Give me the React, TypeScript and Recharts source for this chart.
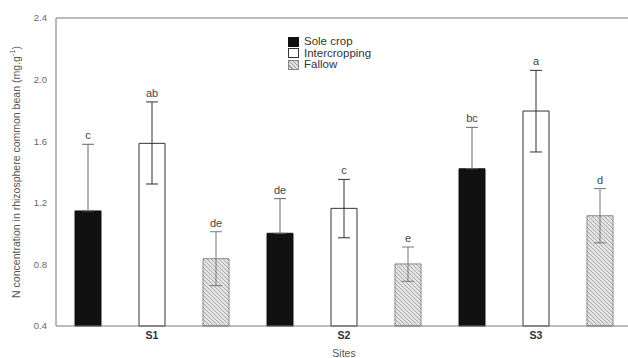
import React from "react";
import { BarChart, Bar, XAxis, YAxis, ErrorBar, LabelList, ReferenceLine } from "recharts";

const sites = ["S1", "S2", "S3"];

const sole = [1.147, 1.002, 1.421];
const soleErr = [[0, 0.433], [0, 0.225], [0, 0.269]];
const soleLetters = ["c", "de", "bc"];

const intercrop = [1.586, 1.164, 1.796];
const intercropErr = [[0.264, 0.269], [0.191, 0.188], [0.266, 0.264]];
const intercropLetters = ["ab", "c", "a"];

const fallow = [0.837, 0.803, 1.116];
const fallowErr = [[0.175, 0.175], [0.113, 0.11], [0.176, 0.176]];
const fallowLetters = ["de", "e", "d"];

const yTicks = [0.4, 0.8, 1.2, 1.6, 2.0, 2.4];
const yMin = 0.4;
const yMax = 2.4;

const data = sites.map((s, i) => ({
  site: s,
  sole: sole[i],
  soleErr: soleErr[i],
  intercrop: intercrop[i],
  intercropErr: intercropErr[i],
  fallow: fallow[i],
  fallowErr: fallowErr[i],
  soleLetter: soleLetters[i],
  intercropLetter: intercropLetters[i],
  fallowLetter: fallowLetters[i],
}));

const font = "'Liberation Sans', Arial, sans-serif";

// letter sits just above the error bar cap, pixel scale taken from the bar itself
const makeLetter = (means: number[], errs: number[][]) => (props: any) => {
  const x = Number(props.x);
  const y = Number(props.y);
  const w = Number(props.width);
  const h = Number(props.height);
  const i = props.index;
  const perUnit = h / (means[i] - yMin);
  const top = y - errs[i][1] * perUnit;
  return (
    <text x={x + w / 2} y={top - 5} textAnchor="middle" fontSize={11} fill="#444" fontFamily={font}>
      {props.value}
    </text>
  );
};

const hatchBg =
  "repeating-linear-gradient(45deg, #e2e2e2 0px, #e2e2e2 2px, #999 2px, #999 3px)";

const legendItems = [
  { name: "Sole crop", style: { background: "#111", border: "1px solid #111" } },
  { name: "Intercropping", style: { background: "#fff", border: "1px solid #333" } },
  { name: "Fallow", style: { background: hatchBg, border: "1px solid #888" } },
];

function LegendBox() {
  return (
    <div style={{ position: "absolute", left: 288, top: 36, fontFamily: font, fontSize: 11.5, lineHeight: "11.5px", color: "#333" }}>
      {legendItems.map((it) => (
        <div key={it.name} style={{ display: "flex", alignItems: "center", height: 11.5 }}>
          <span style={{ display: "inline-block", width: 9, height: 8, marginRight: 5, ...it.style }} />
          <span>{it.name}</span>
        </div>
      ))}
    </div>
  );
}

const YLabel = (props: any) => {
  const vb = props.viewBox;
  const cx = vb.x + 16;
  const cy = vb.y + vb.height / 2;
  return (
    <text
      x={cx}
      y={cy}
      transform={`rotate(-90, ${cx}, ${cy})`}
      textAnchor="middle"
      dominantBaseline="central"
      fontSize={10.5}
      fill="#555"
      fontFamily={font}
    >
      N concentration in rhizosphere common bean (mg.g
      <tspan dy={-4} fontSize={7.5}>-1</tspan>
      <tspan dy={4}>)</tspan>
    </text>
  );
};

const XLabel = (props: any) => {
  const vb = props.viewBox;
  return (
    <text x={vb.x + vb.width / 2} y={vb.y + 31} textAnchor="middle" fontSize={10.5} fill="#555" fontFamily={font}>
      Sites
    </text>
  );
};

export default function App() {
  return (
    <div style={{ position: "absolute", left: 0, top: 0, width: 628, height: 358, overflow: "hidden", background: "#fff" }}>
      <BarChart
        width={640}
        height={358}
        data={data}
        margin={{ top: 18, right: 8, left: 0, bottom: 0 }}
        barCategoryGap={19}
        barGap={38}
      >
        <defs>
          <pattern id="hatch" width="4" height="4" patternUnits="userSpaceOnUse">
            <rect width="4" height="4" fill="#e4e4e4" />
            <path d="M-1,-1 L5,5 M-1,3 L1,5 M3,-1 L5,1" stroke="#999" strokeWidth={0.8} />
          </pattern>
        </defs>
        <XAxis
          dataKey="site"
          height={32}
          stroke="#777"
          tickLine={false}
          tickSize={0}
          tickMargin={6}
          tick={{ fontSize: 10.5, fontWeight: "bold", fill: "#333", fontFamily: font }}
          label={<XLabel />}
        />
        <YAxis
          width={56}
          domain={[yMin, yMax]}
          ticks={yTicks}
          stroke="#777"
          tickLine={false}
          tickSize={0}
          tickMargin={9}
          tickFormatter={(v: number) => v.toFixed(1)}
          tick={{ fontSize: 9.5, fill: "#666", fontFamily: font }}
          label={<YLabel />}
        />
        <ReferenceLine y={yMax} stroke="#777" />
        <Bar dataKey="sole" name="Sole crop" fill="#111" stroke="#111" isAnimationActive={false}>
          <ErrorBar dataKey="soleErr" direction="y" width={6} stroke="#666" strokeWidth={1} />
          <LabelList dataKey="soleLetter" content={makeLetter(sole, soleErr)} />
        </Bar>
        <Bar dataKey="intercrop" name="Intercropping" fill="#fff" stroke="#333" isAnimationActive={false}>
          <ErrorBar dataKey="intercropErr" direction="y" width={6} stroke="#333" strokeWidth={1} />
          <LabelList dataKey="intercropLetter" content={makeLetter(intercrop, intercropErr)} />
        </Bar>
        <Bar dataKey="fallow" name="Fallow" fill="url(#hatch)" stroke="#888" isAnimationActive={false}>
          <ErrorBar dataKey="fallowErr" direction="y" width={6} stroke="#777" strokeWidth={1} />
          <LabelList dataKey="fallowLetter" content={makeLetter(fallow, fallowErr)} />
        </Bar>
      </BarChart>
      <LegendBox />
    </div>
  );
}
